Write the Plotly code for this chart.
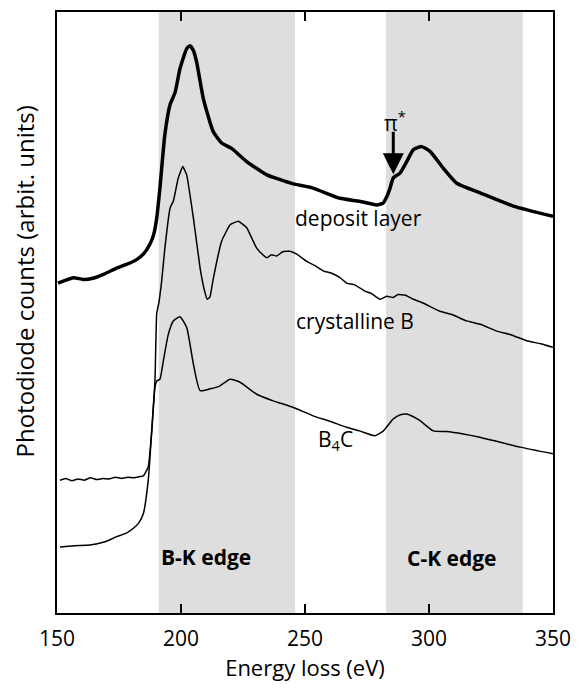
import plotly.graph_objects as go

# ---- data (y in arbitrary units 0-100) ----
deposit_x = [150.4, 156.6, 160.5, 164.5, 169.0, 174.1, 178.0, 182.1, 185.0, 187.5, 189.0, 190.2, 191.5, 193.5,
             195.6, 197.6, 199.6, 202.3, 203.6, 205.0, 206.3, 209.0, 213.0, 216.4, 220.4, 226.5, 234.6,
             240.0, 245.3, 253.2, 264.1, 272.0, 278.9, 281.5, 283.0, 284.3, 285.6, 288.3, 291.0, 293.7,
             297.1, 300.4, 305.8, 311.2, 320.6, 334.0, 350.0]
deposit_y = [54.9, 55.8, 55.5, 55.7, 56.4, 57.4, 58.0, 58.8, 59.8, 61.4, 63.0, 65.7, 70.7, 79.6,
             84.6, 86.6, 90.6, 93.9, 94.4, 93.6, 91.7, 85.6, 80.1, 78.2, 77.3, 75.1, 72.9,
             72.1, 71.4, 70.7, 69.0, 68.5, 67.9, 68.2, 69.3, 70.7, 72.4, 73.2, 75.1, 77.1,
             77.6, 76.8, 74.0, 71.5, 69.9, 67.7, 66.0]

cryst_x = [151.2, 153.5, 156.0, 158.5, 161.0, 163.5, 166.0, 168.5, 171.0, 173.5, 176.0, 178.5, 181.0,
           183.5, 184.8, 186.8, 188.2, 189.5, 190.2, 191.2, 192.2, 193.5, 195.6, 196.9, 198.9,
           200.7, 202.3, 205.0, 207.7, 209.5, 210.6, 211.7, 213.0, 216.4, 219.8, 223.1, 226.5, 230.5,
           233.0, 234.6, 236.5, 238.6, 241.0, 244.0, 246.7, 250.7, 254.0, 257.4, 261.0, 264.1,
           266.8, 270.0, 274.0, 277.0, 280.2, 283.0, 285.6, 287.5, 290.3, 293.7, 298.0, 304.4,
           309.0, 315.2, 321.0, 327.3, 333.0, 339.4, 345.0, 350.0]
cryst_y = [22.1, 22.4, 22.0, 22.3, 22.1, 22.5, 22.2, 22.4, 22.3, 22.6, 22.4, 22.6, 22.5,
           22.7, 22.8, 24.3, 30.3, 38.6, 49.8, 51.9, 55.2, 60.7, 67.4, 68.5, 72.4,
           74.3, 72.9, 65.7, 57.4, 53.6, 52.2, 52.6, 55.6, 61.9, 64.6, 65.2, 64.1, 60.7,
           59.6, 59.1, 59.6, 59.4, 60.1, 60.2, 59.7, 58.5, 57.8, 56.9, 56.5, 55.8,
           54.9, 54.6, 53.6, 53.1, 52.2, 52.7, 52.5, 53.0, 52.9, 52.2, 51.5, 50.2,
           49.7, 48.6, 48.0, 46.9, 46.3, 45.3, 44.8, 44.2]

b4c_x = [151.2, 157.0, 163.3, 169.0, 174.1, 178.0, 180.8, 183.0, 184.8, 186.8, 188.2, 189.5, 190.2,
         191.5, 192.9, 194.9, 196.9, 199.6, 202.3, 205.0, 207.7, 211.7, 215.7, 219.8, 223.8,
         230.5, 237.2, 245.3, 253.3, 260.0, 266.8, 272.0, 278.2, 281.6, 285.6, 288.5, 291.0,
         293.5, 296.4, 301.7, 307.0, 313.8, 320.0, 325.9, 336.7, 350.0]
b4c_y = [11.0, 11.2, 11.3, 11.8, 12.7, 13.3, 14.1, 15.0, 16.5, 22.1, 30.3, 37.5, 38.6,
         38.9, 42.0, 46.4, 48.6, 49.3, 47.5, 41.4, 37.0, 37.3, 37.8, 38.9, 38.4,
         36.4, 35.3, 34.2, 32.8, 31.9, 30.9, 30.3, 29.5, 30.3, 32.3, 33.0, 33.1,
         32.7, 32.0, 30.3, 30.2, 29.8, 29.3, 28.7, 27.6, 26.5]

band_starts = [191.0, 282.7]
band_ends = [246.0, 337.8]
band_labels = ["B-K edge", "C-K edge"]
band_label_x = [210.1, 309.3]
band_label_y = [9.3, 9.1]

curve_labels = ["deposit layer", "crystalline B", "B<sub>4</sub>C"]
curve_label_x = [271.4, 270.2, 262.1]
curve_label_y = [65.7, 48.6, 28.8]

x_ticks = [150, 200, 250, 300, 350]
pi_star_x = 285.6
pi_star_y = 73.0

FONT = "Open Sans"
FS = 21
fig = go.Figure()

fig.add_trace(go.Scatter(x=b4c_x, y=b4c_y, mode="lines",
                         line=dict(color="black", width=1.5, shape="spline", smoothing=0.5),
                         showlegend=False, hoverinfo="skip"))
fig.add_trace(go.Scatter(x=cryst_x, y=cryst_y, mode="lines",
                         line=dict(color="black", width=1.5, shape="spline", smoothing=0.3),
                         showlegend=False, hoverinfo="skip"))
fig.add_trace(go.Scatter(x=deposit_x, y=deposit_y, mode="lines",
                         line=dict(color="black", width=3.5, shape="spline", smoothing=0.5),
                         showlegend=False, hoverinfo="skip"))

for s, e in zip(band_starts, band_ends):
    fig.add_shape(type="rect", xref="x", yref="paper", x0=s, x1=e, y0=0, y1=1,
                  fillcolor="#dedede", line=dict(width=0), layer="below")

for t, x, y in zip(band_labels, band_label_x, band_label_y):
    fig.add_annotation(x=x, y=y, text="<b>" + t + "</b>", showarrow=False,
                       font=dict(family=FONT, size=FS, color="black"))

for t, x, y in zip(curve_labels, curve_label_x, curve_label_y):
    fig.add_annotation(x=x, y=y, text=t, showarrow=False,
                       font=dict(family=FONT, size=FS, color="black"))

# pi* arrow
fig.add_annotation(x=pi_star_x, y=pi_star_y, ax=0, ay=-44, text="", showarrow=True,
                   arrowhead=2, arrowsize=1.4, arrowwidth=3, arrowcolor="black")
fig.add_annotation(x=pi_star_x + 0.8, y=pi_star_y, yshift=53, text="π<sup>*</sup>", showarrow=False,
                   font=dict(family=FONT, size=FS, color="black"))

# y title
fig.add_annotation(xref="paper", yref="paper", x=-0.066, y=0.552, xanchor="center", yanchor="middle",
                   text="Photodiode counts (arbit. units)",
                   textangle=-90, showarrow=False, font=dict(family=FONT, size=24, color="black"))

fig.update_xaxes(range=[150, 350], tickvals=x_ticks, ticktext=[str(v) for v in x_ticks],
                 ticks="inside", ticklen=9, tickwidth=2, tickcolor="black",
                 showline=True, linecolor="black", linewidth=2, mirror="ticks",
                 showgrid=False, zeroline=False, ticklabelstandoff=6,
                 tickfont=dict(family=FONT, size=FS, color="black"),
                 title=dict(text="Energy loss (eV)", font=dict(family=FONT, size=22, color="black"), standoff=4))
fig.update_yaxes(range=[0, 100], showticklabels=False, ticks="", showline=True, linecolor="black",
                 linewidth=2, mirror=True, showgrid=False, zeroline=False)

# the page body adds an 8 px offset, so the figure is sized to fit the window
fig.update_layout(width=575, height=680, margin=dict(l=49, r=30, t=2, b=75),
                  plot_bgcolor="white", paper_bgcolor="white",
                  font=dict(family=FONT, color="black"))

fig.write_html("out.html")
